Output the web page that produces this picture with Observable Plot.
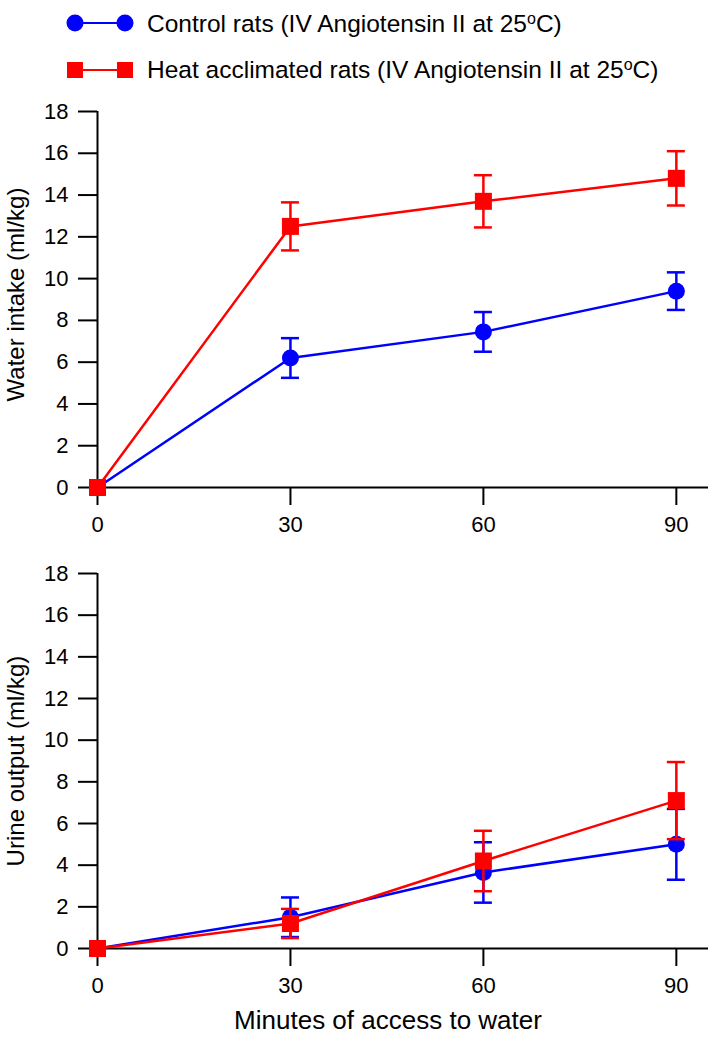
<!DOCTYPE html>
<html>
<head>
<meta charset="utf-8">
<script src="https://cdn.jsdelivr.net/npm/d3@7"></script>
<script src="https://cdn.jsdelivr.net/npm/@observablehq/plot@0.6"></script>
<style>
  html, body { margin: 0; padding: 0; background: #fff; }
  body { width: 709px; height: 1038px; overflow: hidden; font-family: "Liberation Sans", Arial, sans-serif; }
  #legend { display: block; }
  #top svg, #bottom svg { display: block; }
</style>
</head>
<body>
<svg id="legend" width="709" height="95"></svg>
<div id="top"></div>
<div id="bottom"></div>
<script>
// ---- data ----
const minutes = [0, 30, 60, 90];
const xTicks = [0, 30, 60, 90];
const yTicks = [0, 2, 4, 6, 8, 10, 12, 14, 16, 18];

const seriesNames = ["Control rats (IV Angiotensin II at 25", "Heat acclimated rats (IV Angiotensin II at 25"];
const seriesColors = ["#0000ff", "#ff0000"];

const intakeControl = [0, 6.2, 7.45, 9.4];
const intakeControlErr = [0, 0.95, 0.95, 0.9];
const intakeHeat = [0, 12.5, 13.7, 14.8];
const intakeHeatErr = [0, 1.15, 1.25, 1.3];

const urineControl = [0, 1.5, 3.65, 5.0];
const urineControlErr = [0, 0.95, 1.45, 1.7];
const urineHeat = [0, 1.2, 4.2, 7.1];
const urineHeatErr = [0, 0.7, 1.45, 1.85];

const topLabel = "Water intake (ml/kg)";
const bottomLabel = "Urine output (ml/kg)";
const xLabel = "Minutes of access to water";

// ---- legend ----
const leg = d3.select("#legend");
const rows = [
  {y: 23, base: 31.5, color: seriesColors[0], sym: "circle", name: seriesNames[0]},
  {y: 70, base: 77.5, color: seriesColors[1], sym: "square", name: seriesNames[1]}
];
rows.forEach(r => {
  const g = leg.append("g");
  g.append("line").attr("x1", 75).attr("x2", 125).attr("y1", r.y).attr("y2", r.y)
    .attr("stroke", r.color).attr("stroke-width", 2);
  [75, 125].forEach(cx => {
    if (r.sym === "circle") g.append("circle").attr("cx", cx).attr("cy", r.y).attr("r", 8.5).attr("fill", r.color);
    else g.append("rect").attr("x", cx - 8).attr("y", r.y - 8).attr("width", 16).attr("height", 16).attr("fill", r.color);
  });
  const t = g.append("text").attr("x", 147).attr("y", r.base)
    .attr("font-family", "Liberation Sans, Arial, sans-serif").attr("font-size", 24.5).attr("fill", "#000");
  t.append("tspan").text(r.name);
  t.append("tspan").attr("dy", -8).attr("font-size", 16).text("o");
  t.append("tspan").attr("dy", 8).text("C)");
});

// ---- charts ----
function makeRows(values, errs, series) {
  return minutes.map((m, i) => ({x: m, y: values[i], e: errs[i], series}));
}

function panel({control, controlErr, heat, heatErr, height, marginTop, marginBottom, yLabel, yLabelDy, withXLabel}) {
  const c = makeRows(control, controlErr, "control");
  const h = makeRows(heat, heatErr, "heat");
  const series = [[c, seriesColors[0], "circle", 8.5], [h, seriesColors[1], "square", 9.6]];
  const marks = [
    Plot.ruleY([0], {stroke: "#000", strokeWidth: 2}),
    Plot.ruleX([0], {stroke: "#000", strokeWidth: 2}),
    Plot.axisY({ticks: yTicks, tickSize: 19, tickPadding: 10, fontSize: 22, strokeWidth: 2, label: null, tickFormat: d => String(d)}),
    Plot.axisX({ticks: xTicks, tickSize: 18, tickPadding: 11, fontSize: 22, strokeWidth: 2, label: null, tickFormat: d => String(d)}),
    Plot.text([yLabel], {frameAnchor: "left", textAnchor: "middle", lineAnchor: "middle", rotate: -90, dx: -81, dy: yLabelDy, fontSize: 24, fill: "#000"})
  ];
  for (const [data, color, sym, r] of series) {
    const errData = data.filter(d => d.e > 0);
    marks.push(
      Plot.ruleX(errData, {x: "x", y1: d => d.y - d.e, y2: d => d.y + d.e, stroke: color, strokeWidth: 2.5}),
      Plot.ruleY(errData, {x1: "x", x2: "x", y: d => d.y + d.e, insetLeft: -9, insetRight: -9, stroke: color, strokeWidth: 2.5}),
      Plot.ruleY(errData, {x1: "x", x2: "x", y: d => d.y - d.e, insetLeft: -9, insetRight: -9, stroke: color, strokeWidth: 2.5}),
      Plot.line(data, {x: "x", y: "y", stroke: color, strokeWidth: 2.5}),
      Plot.dot(data, {x: "x", y: "y", symbol: sym, r, fill: color, stroke: "none"})
    );
  }
  if (withXLabel) {
    marks.push(Plot.text([xLabel], {frameAnchor: "bottom", textAnchor: "middle", lineAnchor: "middle", dx: -15, dy: 72, fontSize: 26, fill: "#000"}));
  }
  return Plot.plot({
    width: 709,
    height,
    marginLeft: 97,
    marginRight: 1,
    marginTop,
    marginBottom,
    style: {fontFamily: "Liberation Sans, Arial, sans-serif", fontSize: "22px", color: "#000", background: "#fff", overflow: "visible"},
    x: {domain: [0, 95]},
    y: {domain: [0, 18]},
    marks
  });
}

document.getElementById("top").append(panel({
  control: intakeControl, controlErr: intakeControlErr, heat: intakeHeat, heatErr: intakeHeatErr,
  height: 445, marginTop: 16, marginBottom: 53, yLabel: topLabel, yLabelDy: -5, withXLabel: false
}));
document.getElementById("bottom").append(panel({
  control: urineControl, controlErr: urineControlErr, heat: urineHeat, heatErr: urineHeatErr,
  height: 498, marginTop: 33, marginBottom: 90, yLabel: bottomLabel, yLabelDy: 0, withXLabel: true
}));
</script>
</body>
</html>
